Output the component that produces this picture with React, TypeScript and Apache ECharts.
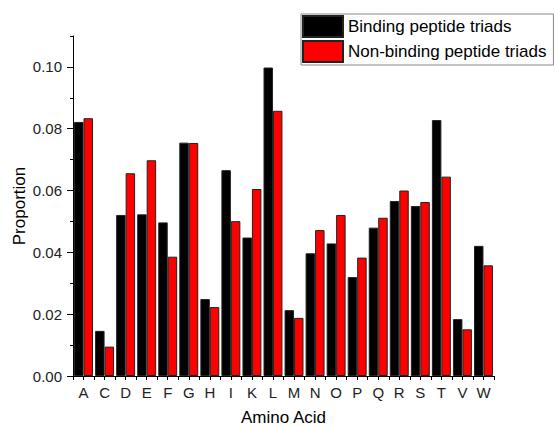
import React, { useEffect, useRef } from "react";
import * as echarts from "echarts";

const categories = ["A", "C", "D", "E", "F", "G", "H", "I", "K", "L", "M", "N", "O", "P", "Q", "R", "S", "T", "V", "W"];
const binding = [0.0822, 0.0146, 0.0521, 0.0523, 0.0497, 0.0755, 0.0249, 0.0666, 0.0448, 0.0998, 0.0213, 0.0397, 0.0429, 0.032, 0.048, 0.0566, 0.055, 0.0828, 0.0184, 0.0421];
const nonBinding = [0.0834, 0.0095, 0.0656, 0.0698, 0.0386, 0.0754, 0.0223, 0.0501, 0.0605, 0.0858, 0.0188, 0.0472, 0.0521, 0.0383, 0.0512, 0.06, 0.0563, 0.0645, 0.0151, 0.0358];
const majorTicks = [0, 0.02, 0.04, 0.06, 0.08, 0.1];
const minorTicks = [0.01, 0.03, 0.05, 0.07, 0.09, 0.11];
const seriesNames = ["Binding peptide triads", "Non-binding peptide triads"];

const FONT = "'Liberation Sans', Arial, sans-serif";

export default function App() {
  const ref = useRef<HTMLDivElement>(null);
  useEffect(() => {
    if (!ref.current) return;
    const chart = echarts.init(ref.current, null, { renderer: "svg" });
    chart.setOption({
      animation: false,
      backgroundColor: "#ffffff",
      textStyle: { fontFamily: FONT },
      grid: { left: 73, right: 61, top: 36, bottom: 50, containLabel: false, outerBoundsMode: "none" },
      legend: {
        orient: "vertical",
        left: 301,
        top: 14,
        icon: "rect",
        itemWidth: 40,
        itemHeight: 21,
        itemGap: 2,
        padding: [1, 7, 2, 1],
        borderColor: "#888888",
        borderWidth: 1,
        textStyle: { fontSize: 17, color: "#000", fontFamily: FONT, lineHeight: 21 },
        data: seriesNames,
      },
      xAxis: [
        {
          type: "category",
          data: categories,
          boundaryGap: true,
          name: "Amino Acid",
          nameLocation: "middle",
          nameGap: 33,
          nameMoveOverlap: false,
          nameTextStyle: { fontSize: 17, color: "#000", fontFamily: FONT, lineHeight: 17 },
          axisLine: { show: true, lineStyle: { color: "#000", width: 1 } },
          axisTick: { show: true, alignWithLabel: false, length: 4, lineStyle: { color: "#000" } },
          axisLabel: { fontSize: 15, color: "#222", margin: 9, interval: 0, fontFamily: FONT },
          splitLine: { show: false },
        },
        {
          type: "category",
          data: categories,
          boundaryGap: true,
          position: "bottom",
          axisLine: { show: false },
          axisTick: { show: true, alignWithLabel: true, length: 4, interval: 0, lineStyle: { color: "#000" } },
          axisLabel: { show: false },
          splitLine: { show: false },
        },
      ],
      yAxis: [
        {
          type: "value",
          min: 0,
          max: 0.11,
          interval: 0.02,
          name: "Proportion",
          nameLocation: "middle",
          nameGap: 45,
          nameMoveOverlap: false,
          nameTextStyle: { fontSize: 17, color: "#000", fontFamily: FONT },
          axisLine: { show: true, lineStyle: { color: "#000", width: 1 } },
          axisTick: { show: true, length: 6, customValues: majorTicks, lineStyle: { color: "#000" } },
          axisLabel: {
            fontSize: 15,
            color: "#222",
            margin: 11,
            customValues: majorTicks,
            formatter: (v: number) => v.toFixed(2),
            fontFamily: FONT,
          },
          splitLine: { show: false },
        },
        {
          type: "value",
          min: 0,
          max: 0.11,
          interval: 0.02,
          position: "left",
          axisLine: { show: false },
          axisTick: { show: true, length: 3, customValues: minorTicks, lineStyle: { color: "#000" } },
          axisLabel: { show: false },
          splitLine: { show: false },
        },
      ],
      series: [
        {
          name: seriesNames[0],
          type: "bar",
          data: binding,
          barGap: "0%",
          barCategoryGap: "10%",
          itemStyle: { color: "#000000", borderColor: "#222", borderWidth: 1 },
        },
        {
          name: seriesNames[1],
          type: "bar",
          data: nonBinding,
          barGap: "0%",
          barCategoryGap: "10%",
          itemStyle: { color: "#ff0000", borderColor: "#222", borderWidth: 1 },
        },
      ],
    });
    return () => chart.dispose();
  }, []);
  return <div ref={ref} style={{ width: 555, height: 426, position: "absolute", left: 0, top: 0 }} />;
}
